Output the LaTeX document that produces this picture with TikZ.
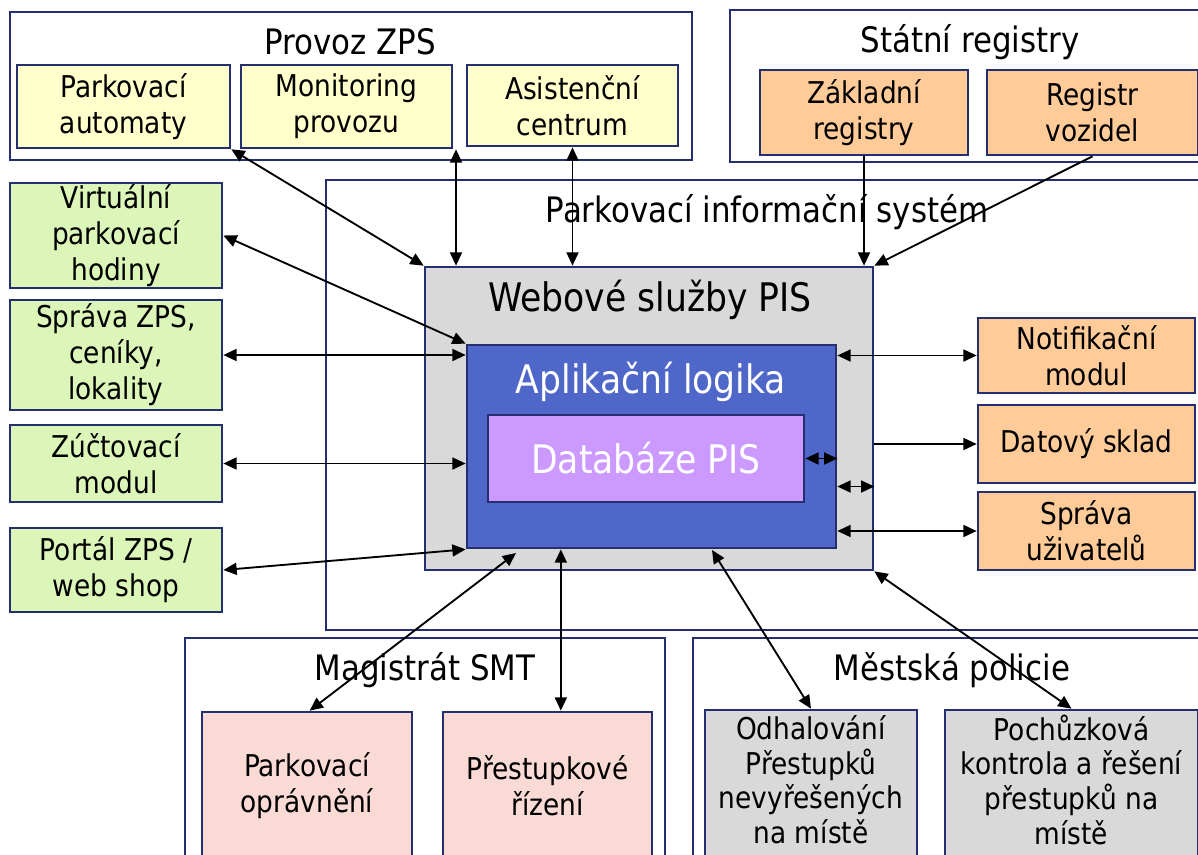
\documentclass[tikz,border=0pt]{standalone}
\usepackage{fontspec}
\setmainfont{DejaVu Sans}[FakeStretch=0.88]
\usetikzlibrary{arrows.meta,fit}
\definecolor{navy}{RGB}{35,47,110}
\definecolor{lightyellow}{RGB}{255,255,204}
\definecolor{peach}{RGB}{255,204,153}
\definecolor{lightgreen}{RGB}{219,246,184}
\definecolor{pink}{RGB}{250,218,212}
\definecolor{lightgray}{RGB}{217,217,217}
\definecolor{appblue}{RGB}{79,103,201}
\definecolor{violet}{RGB}{204,153,255}
\tikzset{
  frame/.style={draw=navy,line width=2pt,inner sep=0pt},
  lbl/.style={align=center,inner sep=0pt,font=\fontsize{22.5}{27}\selectfont},
  tight/.style={lbl,font=\fontsize{22.5}{26}\selectfont},
  title/.style={font=\fontsize{26.3}{31}\selectfont},
  big/.style={font=\fontsize{29.5}{34}\selectfont},
  link/.style={line width=1.4pt,{Triangle[length=10pt,width=9pt]}-{Triangle[length=10pt,width=9pt]}},
  feed/.style={line width=1.4pt,-{Triangle[length=10pt,width=9pt]}}
}
\begin{document}
\begin{tikzpicture}[x=0.75pt,y=-0.75pt]
\clip (0,0) rectangle (1198,854);
\fill[white] (0,0) rectangle (1198,854);

\node[frame,fit={(10,12) (692,160)}] (zps) {};
\node[title] (zpst) at (350,42) {Provoz ZPS};
\node[frame,fill=lightyellow,fit={(17,65) (230,148)}] (aut) {};
\node[lbl] (autt) at (aut) {Parkovací\\automaty};
\node[frame,fill=lightyellow,fit={(241,65) (452,148)}] (mon) {};
\node[lbl] (mont) at (mon) {Monitoring\\provozu};
\node[frame,fill=lightyellow,fit={(467,65) (678,146)}] (asi) {};
\node[lbl] (asit) at (asi) {Asistenční\\centrum};

\node[frame,fit={(730,10) (1210,162)}] (str) {};
\node[title] (strt) at (970,42) {Státní registry};
\node[frame,fill=peach,fit={(760,70) (968,155)}] (zak) {};
\node[lbl] (zakt) at (zak) {Základní\\registry};
\node[frame,fill=peach,fit={(987,70) (1198,155)}] (veh) {};
\node[lbl] (veht) at (veh) {Registr\\vozidel};

\node[frame,fit={(326,180) (1210,630)}] (pis) {};
\node[title] (pist) at (767,212) {Parkovací informační systém};
\node[frame,fill=lightgray,fit={(425,267) (873,570)}] (web) {};
\node[big] (webt) at (650,300) {Webové služby PIS};
\node[frame,fill=appblue,fit={(467,345) (836,548)}] (app) {};
\node[big,text=white] (appt) at (651,382) {Aplikační logika};
\node[frame,fill=violet,fit={(488,415) (804,502)}] (db) {};
\node[big,text=white] (dbt) at (db) {Databáze PIS};

\node[frame,fill=lightgreen,fit={(10,183) (222,288)}] (vir) {};
\node[lbl] (virt) at (vir) {Virtuální\\parkovací\\hodiny};
\node[frame,fill=lightgreen,fit={(10,300) (222,410)}] (spr) {};
\node[lbl] (sprt) at (spr) {Správa ZPS,\\ceníky,\\lokality};
\node[frame,fill=lightgreen,fit={(10,425) (222,502)}] (zuc) {};
\node[lbl] (zuct) at (zuc) {Zúčtovací\\modul};
\node[frame,fill=lightgreen,fit={(10,528) (222,612)}] (por) {};
\node[lbl] (port) at (por) {Portál ZPS /\\web shop};

\node[frame,fill=peach,fit={(978,318) (1195,393)}] (ntf) {};
\node[lbl] (ntft) at (ntf) {Notifikační\\modul};
\node[frame,fill=peach,fit={(978,405) (1195,483)}] (dat) {};
\node[lbl] (datt) at (dat) {Datový sklad};
\node[frame,fill=peach,fit={(978,492) (1195,570)}] (usr) {};
\node[lbl] (usrt) at (usr) {Správa\\uživatelů};

\node[frame,fit={(185,638) (665,870)}] (mag) {};
\node[title] (magt) at (425,670) {Magistrát SMT};
\node[frame,fill=pink,fit={(202,712) (412,860)}] (opr) {};
\node[lbl] (oprt) at (opr) {Parkovací\\oprávnění};
\node[frame,fill=pink,fit={(443,712) (652,860)}] (pre) {};
\node[lbl] (pret) at (pre) {Přestupkové\\řízení};

\node[frame,fit={(693,638) (1210,870)}] (pol) {};
\node[title] (polt) at (952,670) {Městská policie};
\node[frame,fill=lightgray,fit={(705,710) (917,860)}] (odh) {};
\node[tight] (odht) at ([yshift=4pt]odh.center) {Odhalování\\Přestupků\\nevyřešených\\na místě};
\node[frame,fill=lightgray,fit={(945,710) (1198,860)}] (poc) {};
\node[tight] (poct) at ([yshift=4pt]poc.center) {Pochůzková\\kontrola a řešení\\přestupků na\\místě};

\coordinate (dbl) at ([yshift=-30pt]app.east);
\coordinate (ma) at (516,553);
\coordinate (mp) at (712,550);

\draw[link] (aut.south east) -- (web.north west);
\draw[link] ([xshift=2pt]mon.south east) -- ([xshift=2pt]mon.south east |- web.north);
\draw[link] (asi.south) -- (asi.south |- web.north);
\draw[feed] (zak.south) -- (zak.south |- web.north);
\draw[feed] (veh.south) -- (web.north east);
\draw[link] (vir.east) -- (app.north west);
\draw[link] (spr.east) -- (spr.east -| app.west);
\draw[link] (zuc.east) -- (zuc.east -| app.west);
\draw[link] (por.east) -- (app.south west);
\draw[link] (app.east |- ntf.west) -- (ntf.west);
\draw[feed] (web.east |- dat.west) -- (dat.west);
\draw[link] (db.east) -- (db.east -| app.east);
\draw[link] (dbl) -- (dbl -| web.east);
\draw[link] (app.east |- usr.west) -- (usr.west);
\draw[link] ([xshift=2pt]opr.north) -- (ma);
\draw[link] ([xshift=10pt]pre.north) -- ([xshift=10pt]pre.north |- app.south);
\draw[link] (odh.north) -- (mp);
\draw[link] (poc.north) -- (web.south east);
\end{tikzpicture}
\end{document}
